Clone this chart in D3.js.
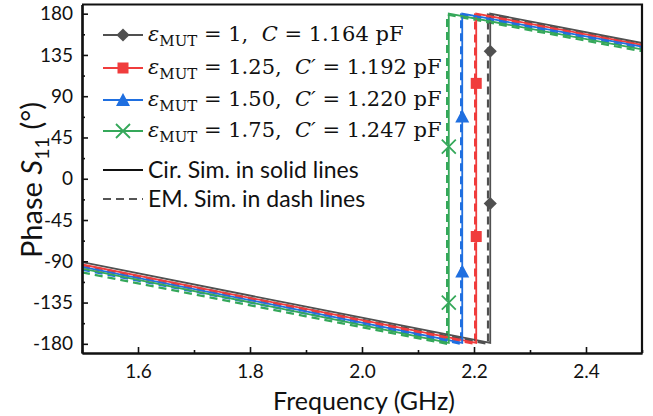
<!DOCTYPE html>
<html>
  <head>
    <meta charset="utf-8">
    <title> Phase S11 vs Frequency </title>
    <script src="https://d3js.org/d3.v7.min.js"></script>
    <style>
      body { margin: 0; background: #fff; }
      text { fill: #111; }
    </style>
  </head>
  <body>
  <svg width="653" height="416"></svg>
  <script>

    // series: [frequency GHz, phase deg]
    var solidBlack = [[1.5, -91], [1.9, -139.5], [2.229, -179], [2.229, 180], [2.5, 148]];
    var solidRed   = [[1.5, -93.5], [1.9, -142], [2.204, -179], [2.204, 180], [2.5, 146]];
    var solidBlue  = [[1.5, -96], [1.9, -144.5], [2.179, -179], [2.179, 180], [2.5, 144]];
    var solidGreen = [[1.5, -98], [1.9, -147], [2.155, -179], [2.155, 180], [2.5, 141]];

    var dashBlack = [[1.5, -94], [1.9, -142], [2.225, -180], [2.225, 179], [2.5, 146]];
    var dashRed   = [[1.5, -96], [1.9, -144], [2.202, -180], [2.202, 179], [2.5, 144]];
    var dashBlue  = [[1.5, -99], [1.9, -147], [2.177, -180], [2.177, 179], [2.5, 142]];
    var dashGreen = [[1.5, -102], [1.9, -150], [2.152, -180], [2.152, 179], [2.5, 139]];

    var markBlack = [[2.229, 139], [2.229, -27]];
    var markRed   = [[2.204, 104], [2.204, -63]];
    var markBlue  = [[2.179, 68], [2.179, -101]];
    var markGreen = [[2.155, 35], [2.155, -135]];

    var epsValues = ["1", "1.25", "1.50", "1.75"];
    var capNames = ["C", "C\u2032", "C\u2032", "C\u2032"];
    var capValues = ["1.164", "1.192", "1.220", "1.247"];

    var xTicks = [1.6, 1.8, 2.0, 2.2, 2.4];
    var xMinor = [1.5, 1.7, 1.9, 2.1, 2.3, 2.5];
    var yTicks = [-180, -135, -90, -45, 0, 45, 90, 135, 180];
    var yMinor = [-157.5, -112.5, -67.5, -22.5, 22.5, 67.5, 112.5, 157.5];

    var colors = ["#505050", "#f03c3c", "#1f6fe0", "#35a85a"];
    var markerTypes = ["diamond", "square", "triangle", "cross"];

    var svg = d3.select("svg");
    var pLeft = 82, pRight = 642, pTop = 4.5, pBottom = 353;

    var x = d3.scaleLinear().domain([1.5, 2.5]).range([pLeft, pRight]);
    var y = d3.scaleLinear().domain([-190, 190]).range([pBottom, pTop]);

    svg.append("clipPath").attr("id", "plot")
      .append("rect").attr("x", pLeft).attr("y", pTop)
      .attr("width", pRight - pLeft).attr("height", pBottom - pTop);

    var line = d3.line().x(function(d) { return x(d[0]); }).y(function(d) { return y(d[1]); });

    var solids = [solidBlack, solidRed, solidBlue, solidGreen];
    var dashes = [dashBlack, dashRed, dashBlue, dashGreen];
    var marks = [markBlack, markRed, markBlue, markGreen];

    var g = svg.append("g").attr("clip-path", "url(#plot)");

    // dashed (EM) first, then solid (circuit)
    dashes.forEach(function(s, i) {
      g.append("path").datum(s).attr("d", line)
        .attr("fill", "none").attr("stroke", colors[i])
        .attr("stroke-width", 2.2).attr("stroke-dasharray", "8,5");
    });
    solids.forEach(function(s, i) {
      g.append("path").datum(s).attr("d", line)
        .attr("fill", "none").attr("stroke", colors[i])
        .attr("stroke-width", 1.8);
    });

    //marker shapes
    function drawMarker(sel, type, color, cx, cy) {
      if (type == "diamond") {
        sel.append("path").attr("d", d3.symbol().type(d3.symbolDiamond2).size(110)())
          .attr("transform", "translate(" + cx + "," + cy + ")").attr("fill", color);
      } else if (type == "square") {
        sel.append("rect").attr("x", cx - 5.5).attr("y", cy - 5.5)
          .attr("width", 11).attr("height", 11).attr("fill", color);
      } else if (type == "triangle") {
        sel.append("path").attr("d", "M0,-7L7,6L-7,6Z")
          .attr("transform", "translate(" + cx + "," + cy + ")").attr("fill", color);
      } else {
        sel.append("path").attr("d", "M-7,-7L7,7M-7,7L7,-7")
          .attr("transform", "translate(" + cx + "," + cy + ")")
          .attr("stroke", color).attr("stroke-width", 1.8).attr("fill", "none");
      }
    }

    marks.forEach(function(m, i) {
      m.forEach(function(d) { drawMarker(svg, markerTypes[i], colors[i], x(d[0]), y(d[1])); });
    });

    // axes
    svg.append("g").attr("transform", "translate(0," + pBottom + ")")
      .call(d3.axisBottom(x).tickValues(xTicks).tickSize(-6).tickSizeOuter(0).tickPadding(12)
        .tickFormat(d3.format(".1f")));
    svg.append("g").attr("transform", "translate(0," + pBottom + ")")
      .call(d3.axisBottom(x).tickValues(xMinor).tickSize(-3).tickSizeOuter(0).tickFormat(""));
    svg.append("g").attr("transform", "translate(" + pLeft + ",0)")
      .call(d3.axisLeft(y).tickValues(yTicks).tickSize(-6).tickSizeOuter(0).tickPadding(9)
        .tickFormat(function(d) { return String(d); }));
    svg.append("g").attr("transform", "translate(" + pLeft + ",0)")
      .call(d3.axisLeft(y).tickValues(yMinor).tickSize(-3).tickSizeOuter(0).tickFormat(""));

    svg.selectAll(".tick line").attr("stroke", "#111").attr("stroke-width", 1.6);
    svg.selectAll(".domain").attr("stroke", "#111").attr("stroke-width", 2.2);
    svg.selectAll(".tick text").attr("font-family", "Lato").attr("font-size", "19px").attr("fill", "#111");

    // frame
    svg.append("path")
      .attr("d", "M" + pLeft + "," + pTop + "H" + pRight + "V" + pBottom)
      .attr("fill", "none").attr("stroke", "#111").attr("stroke-width", 2.2);

    // axis titles
    svg.append("text").attr("x", 364).attr("y", 410).attr("text-anchor", "middle")
      .attr("font-family", "Lato").attr("font-size", "25px").text("Frequency (GHz)");

    var yl = svg.append("text").attr("transform", "translate(42,180) rotate(-90)")
      .attr("text-anchor", "middle").attr("font-family", "Lato").attr("font-size", "29px");
    yl.append("tspan").text("Phase ");
    yl.append("tspan").attr("font-style", "italic").text("S");
    yl.append("tspan").attr("font-size", "20px").attr("dy", 7).text("11");
    yl.append("tspan").attr("dy", -7).text(" (\u00b0)");

    // legend
    var rowsY = [35, 68, 100, 131];
    epsValues.forEach(function(v, i) {
      var ry = rowsY[i];
      svg.append("line").attr("x1", 103).attr("x2", 143).attr("y1", ry).attr("y2", ry)
        .attr("stroke", colors[i]).attr("stroke-width", 1.8);
      drawMarker(svg, markerTypes[i], colors[i], 123, ry);
      var t = svg.append("text").attr("x", 148).attr("y", ry + 6)
        .attr("font-family", "DejaVu Serif").attr("font-size", "21px");
      t.append("tspan").attr("font-style", "italic").text("\u03b5");
      t.append("tspan").attr("font-size", "15px").attr("dy", 5).text("MUT");
      t.append("tspan").attr("dy", -5).text("\u00a0=\u00a0" + v + ",\u00a0\u00a0");
      t.append("tspan").attr("font-style", "italic").text(capNames[i]);
      t.append("tspan").text("\u00a0=\u00a0" + capValues[i] + "\u00a0pF");
    });

    svg.append("line").attr("x1", 103).attr("x2", 143).attr("y1", 170).attr("y2", 170)
      .attr("stroke", "#111").attr("stroke-width", 1.8);
    svg.append("text").attr("x", 148).attr("y", 178).attr("font-family", "Lato")
      .attr("font-size", "23px").text("Cir. Sim. in solid lines");
    svg.append("line").attr("x1", 103).attr("x2", 143).attr("y1", 199).attr("y2", 199)
      .attr("stroke", "#555").attr("stroke-width", 1.8).attr("stroke-dasharray", "8,5");
    svg.append("text").attr("x", 148).attr("y", 207).attr("font-family", "Lato")
      .attr("font-size", "23px").text("EM. Sim. in dash lines");

</script>
</body>
</html>
